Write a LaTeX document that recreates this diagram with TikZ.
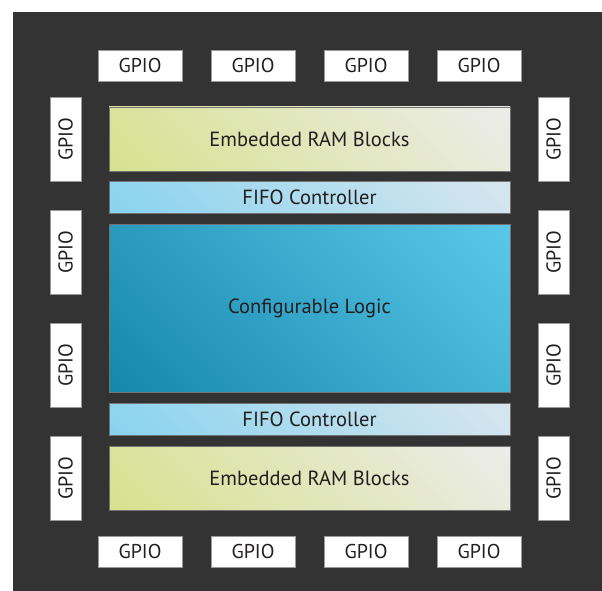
\documentclass[tikz,border=0pt]{standalone}
\usepackage{fontspec}
\setmainfont{PT Sans}
\usetikzlibrary{positioning}
\definecolor{chipbg}{HTML}{333333}
\definecolor{labeltext}{HTML}{231F20}
\definecolor{ramlo}{HTML}{D6E28E}
\definecolor{ramhi}{HTML}{ECECEA}
\definecolor{fifolo}{HTML}{88D3EF}
\definecolor{fifohi}{HTML}{D8E6EE}
\definecolor{logiclo}{HTML}{1487AB}
\definecolor{logichi}{HTML}{5AC8EA}
% corner-to-corner gradients, stops fitted to a 401pt square
\pgfdeclareverticalshading{ramshade}{100bp}{color(0bp)=(ramlo); color(29.5bp)=(ramlo); color(70.5bp)=(ramhi); color(100bp)=(ramhi)}
\pgfdeclareverticalshading{fifoshade}{100bp}{color(0bp)=(fifolo); color(30.9bp)=(fifolo); color(69.1bp)=(fifohi); color(100bp)=(fifohi)}
\pgfdeclareverticalshading{logicshade}{100bp}{color(0bp)=(logiclo); color(24.9bp)=(logiclo); color(75.1bp)=(logichi); color(100bp)=(logichi)}

\begin{document}
\begin{tikzpicture}[x=1pt,y=-1pt,node distance=10.75pt,
  block/.style={minimum width=401pt,inner sep=0pt,outer sep=0pt,
    draw=black!55,line width=0.8pt,text=labeltext,font=\fontsize{20.5}{24}\selectfont},
  diag/.style={path picture={
    \shade[shading=#1,shading angle=-45]
      (path picture bounding box.center) ++(-200.5,-200.5) rectangle ++(401,401);}},
  ram/.style={block,minimum height=64pt,diag=ramshade},
  fifo/.style={block,minimum height=32pt,diag=fifoshade},
  logic/.style={block,minimum height=168pt,diag=logicshade},
  gpio/.style={fill=white,draw=black!40,line width=0.6pt,minimum width=84pt,minimum height=31pt,
    inner sep=0pt,text=labeltext,font=\fontsize{20}{24}\selectfont}]
  \useasboundingbox (0,0) rectangle (602,591);
  \fill[chipbg] (13,12) rectangle (602,591);

  \node[ram] (ramtop) at (309.5,139) {Embedded RAM Blocks};
  \node[fifo,below=of ramtop] (fifotop) {FIFO Controller};
  \node[logic,below=of fifotop] (logic) {Configurable Logic};
  \node[fifo,below=of logic] (fifobot) {FIFO Controller};
  \node[ram,below=of fifobot] (rambot) {Embedded RAM Blocks};

  \foreach \i in {0,...,3} {
    \node[gpio] (gpio-t\i) at (140+113*\i,65.5) {GPIO};
    \node[gpio] (gpio-b\i) at (140+113*\i,551.5) {GPIO};
    \node[gpio,rotate=90] (gpio-l\i) at (65.5,139+113*\i) {GPIO};
    \node[gpio,rotate=90] (gpio-r\i) at (553.5,139+113*\i) {GPIO};
  }
\end{tikzpicture}
\end{document}
